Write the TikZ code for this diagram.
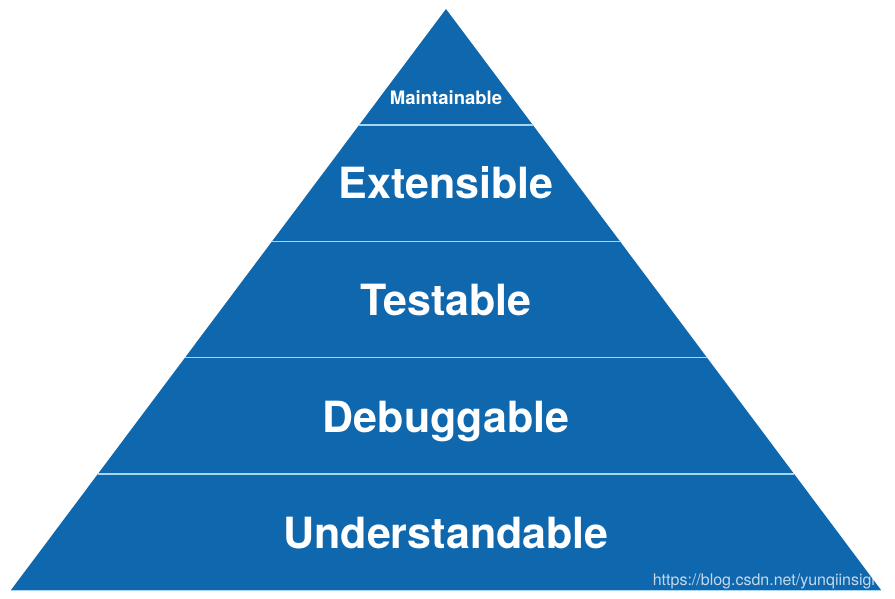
\documentclass[tikz,border=0pt]{standalone}
\usepackage{fontspec}
\setmainfont{TeX Gyre Heros}
\usepackage{tikz}
\usetikzlibrary{calc}
\definecolor{pyrblue}{HTML}{0F67AD}
\definecolor{seam}{HTML}{A6D6F0}

\begin{document}
\begin{tikzpicture}[x=1pt,y=-1pt,
  tier/.style={text=white,anchor=base,inner sep=0,
    font=\bfseries\fontsize{43}{43}\selectfont}]
  \useasboundingbox (0,0) rectangle (895,598);
  \coordinate (apex) at (446,9);
  \coordinate (bl) at (11,590);
  \coordinate (br) at (881,590);
  \fill[pyrblue] (apex) -- (bl) -- (br) -- cycle;
  \foreach \t in {.2,.4,.6,.8}
    \draw[seam,line width=1.5pt] ($(apex)!\t!(bl)$) -- ($(apex)!\t!(br)$);
  \draw[seam,line width=1pt] (bl) -- (br);
  % levels, top to bottom
  \node[tier,font=\bfseries\fontsize{18.5}{18.5}\selectfont] (maint) at (446,104) {Maintainable};
  \node[tier] (ext) at (446,198.5) {Extensible};
  \node[tier] (test) at (446,315) {Testable};
  \node[tier] (debug) at (446,432) {Debuggable};
  \node[tier] (under) at (446,548.5) {Understandable};
  \node[anchor=base east,inner sep=0,text=white,opacity=.75,
    font=\fontsize{16}{16}\selectfont] (mark) at (885,585) {https://blog.csdn.net/yunqiinsight};
\end{tikzpicture}
\end{document}
